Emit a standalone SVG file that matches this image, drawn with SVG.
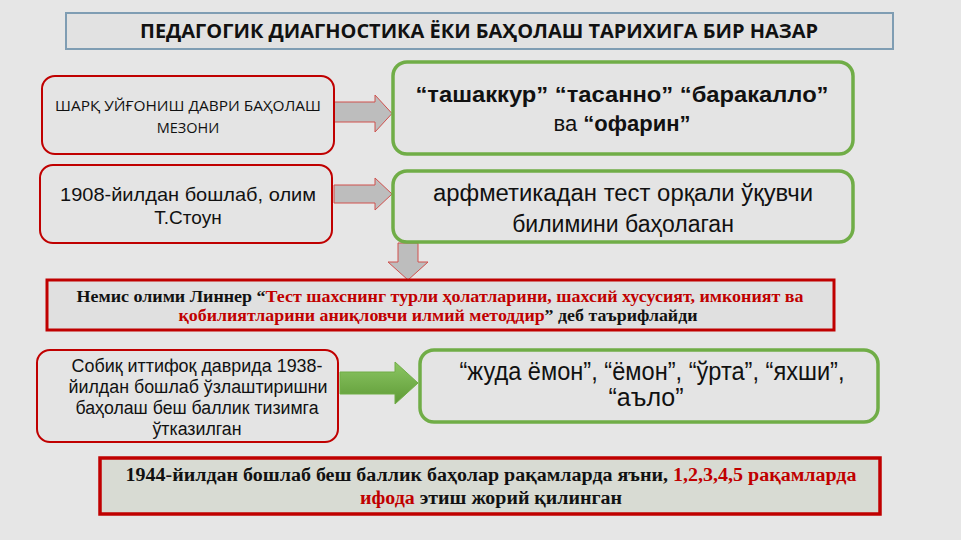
<svg xmlns="http://www.w3.org/2000/svg" width="961" height="540" viewBox="0 0 961 540">
<defs>
<style>
.redbox{fill:#e4e4e4;stroke:#c00000;stroke-width:2}
.greenbox{fill:#e4e4e4;stroke:#70ad47;stroke-width:3.5}
.garrow{fill:#bdbdbd;stroke:#d0504d;stroke-width:1}
.sans{font-family:"Liberation Sans",Arial,sans-serif;fill:#111}
.open{font-family:"Open Sans","Liberation Sans",sans-serif;fill:#111}
.narrow{font-family:"Liberation Sans Narrow","Liberation Sans",Arial,sans-serif;fill:#111}
.serif{font-family:"Liberation Serif","Times New Roman",serif;font-weight:bold;fill:#111}
.red{fill:#c00000}
</style>
<linearGradient id="gg" x1="0" y1="0" x2="0" y2="1">
<stop offset="0" stop-color="#8cc663"/><stop offset="1" stop-color="#5e9a36"/>
</linearGradient>
</defs>
<rect width="961" height="540" fill="#e6e6e6"/>

<g id="title">
<rect x="66" y="13" width="827" height="36" fill="#e2e2e2" stroke="#7f9db3" stroke-width="2"/>
<text x="479" y="37.5" class="open" font-size="19" font-weight="bold" text-anchor="middle" textLength="678" lengthAdjust="spacingAndGlyphs">ПЕДАГОГИК ДИАГНОСТИКА ЁКИ БАҲОЛАШ ТАРИХИГА БИР НАЗАР</text>
</g>

<g id="connectors">
<polygon class="garrow" points="334,102 375,102 375,95 392,113.5 375,132 375,122 334,122"/>
<polygon class="garrow" points="334,185 375,185 375,178 392,194 375,210 375,203 334,203"/>
<polygon class="garrow" points="398,243 418,243 418,262 428,262 408,280 388,262 398,262"/>
<polygon fill="url(#gg)" stroke="#70ad47" stroke-width="1" points="340,372 395,372 395,362 418,383 395,404 395,394 340,394"/>
</g>

<g id="n1">
<rect class="redbox" x="42" y="76" width="292" height="78" rx="13"/>
<text class="open" font-size="14.5" text-anchor="middle"><tspan x="188" y="111" textLength="266" lengthAdjust="spacingAndGlyphs">ШАРҚ УЙҒОНИШ ДАВРИ БАҲОЛАШ</tspan><tspan x="188" y="133">МЕЗОНИ</tspan></text>
</g>

<g id="n2">
<rect class="redbox" x="40" y="165" width="292" height="78" rx="13"/>
<text class="sans" font-size="19" text-anchor="middle"><tspan x="188" y="201" textLength="256" lengthAdjust="spacingAndGlyphs">1908-йилдан бошлаб, олим</tspan><tspan x="188" y="224">Т.Стоун</tspan></text>
</g>

<g id="n3">
<rect class="greenbox" x="393" y="62" width="460" height="92" rx="14"/>
<text class="sans" font-size="22" text-anchor="middle"><tspan x="622" y="102" font-weight="bold" textLength="413" lengthAdjust="spacingAndGlyphs">“ташаккур” “тасанно” “баракалло”</tspan><tspan x="622" y="131">ва <tspan font-weight="bold">“офарин”</tspan></tspan></text>
</g>

<g id="n4">
<rect class="greenbox" x="393" y="171" width="460" height="71" rx="14"/>
<text class="sans" font-size="23" text-anchor="middle"><tspan x="623" y="201" textLength="380" lengthAdjust="spacingAndGlyphs">арфметикадан тест орқали ўқувчи</tspan><tspan x="623" y="232">билимини баҳолаган</tspan></text>
</g>

<g id="n5">
<rect x="47" y="280" width="787" height="50" fill="#e0e0e0" stroke="#c00000" stroke-width="3"/>
<text class="serif" font-size="17" text-anchor="middle" x="440" y="302" textLength="727" lengthAdjust="spacingAndGlyphs">Немис олими Линнер “<tspan class="red">Тест шахснинг турли ҳолатларини, шахсий хусусият, имконият ва</tspan></text>
<text class="serif" font-size="17" text-anchor="middle" x="438" y="321" textLength="519" lengthAdjust="spacingAndGlyphs"><tspan class="red">қобилиятларини аниқловчи илмий методдир</tspan>” деб таърифлайди</text>
</g>

<g id="n6">
<rect class="redbox" x="37" y="350" width="301" height="92" rx="13"/>
<text class="narrow" font-size="18" text-anchor="middle"><tspan x="197" y="372" textLength="251" lengthAdjust="spacingAndGlyphs">Собиқ иттифоқ даврида 1938-</tspan><tspan x="198" y="393" textLength="259" lengthAdjust="spacingAndGlyphs">йилдан бошлаб ўзлаштиришни</tspan><tspan x="197" y="414" textLength="243" lengthAdjust="spacingAndGlyphs">баҳолаш беш баллик тизимга</tspan><tspan x="197" y="435" textLength="89" lengthAdjust="spacingAndGlyphs">ўтказилган</tspan></text>
</g>

<g id="n7">
<rect class="greenbox" x="420" y="350" width="458" height="72" rx="14"/>
<text class="narrow" font-size="25" text-anchor="middle"><tspan x="652" y="380" textLength="385" lengthAdjust="spacingAndGlyphs">“жуда ёмон”, “ёмон”, “ўрта”, “яхши”,</tspan><tspan x="646" y="406" textLength="75" lengthAdjust="spacingAndGlyphs">“аъло”</tspan></text>
</g>

<g id="n8">
<rect x="100" y="458" width="780" height="56" fill="#d8dbd3" stroke="#c00000" stroke-width="3.5"/>
<text class="serif" font-size="18" text-anchor="middle" x="491" y="481" textLength="731" lengthAdjust="spacingAndGlyphs">1944-йилдан бошлаб беш баллик баҳолар рақамларда яъни, <tspan class="red">1,2,3,4,5 рақамларда</tspan></text>
<text class="serif" font-size="18" text-anchor="middle" x="491" y="504" textLength="262" lengthAdjust="spacingAndGlyphs"><tspan class="red">ифода</tspan> этиш жорий қилинган</text>
</g>
</svg>
